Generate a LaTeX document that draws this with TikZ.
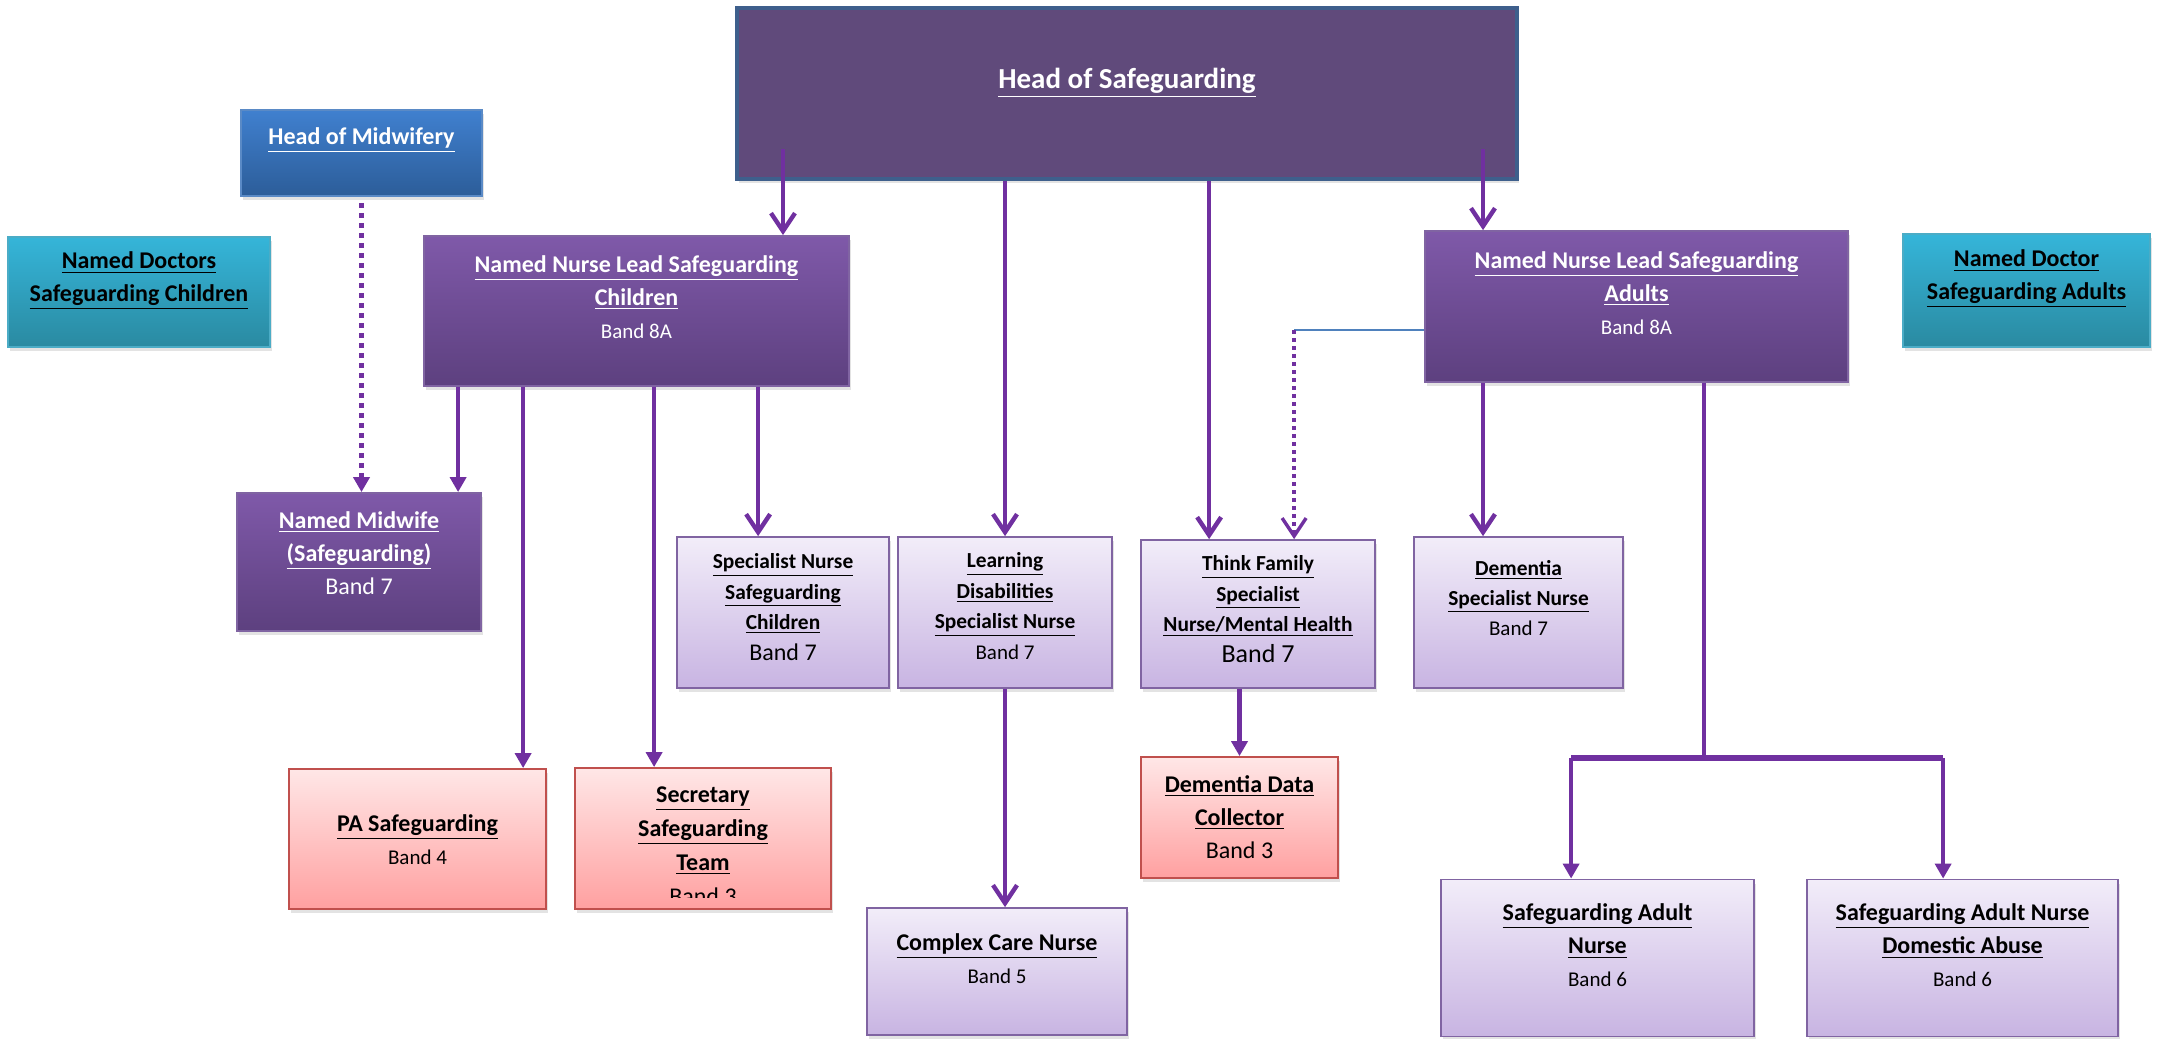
\documentclass[tikz,border=0pt]{standalone}
\usepackage{fontspec}
\setmainfont{Carlito}
\usetikzlibrary{arrows.meta,shadows}

\definecolor{hosfill}{HTML}{604A7B}
\definecolor{hosline}{HTML}{3E5F8C}
\definecolor{homtop}{HTML}{4080CF}
\definecolor{hombot}{HTML}{2C5D99}
\definecolor{homline}{HTML}{5A8AC6}
\definecolor{doctop}{HTML}{35B5D9}
\definecolor{docbot}{HTML}{2A8AA1}
\definecolor{docline}{HTML}{4BACC6}
\definecolor{nnltop}{HTML}{7F59A9}
\definecolor{nnlbot}{HTML}{5D407F}
\definecolor{nnlline}{HTML}{8064A2}
\definecolor{ltop}{HTML}{F2EDF9}
\definecolor{lbot}{HTML}{C8B4E2}
\definecolor{redtop}{HTML}{FFE7E7}
\definecolor{redbot}{HTML}{FFA0A0}
\definecolor{redline}{HTML}{C0504D}
\definecolor{arr}{HTML}{7030A0}
\definecolor{thinblue}{HTML}{4F81BD}

\newcommand{\ulb}[1]{\underline{\textbf{#1}}}
\newcommand{\band}[1]{{\fontsize{10.5}{15}\selectfont #1}}

\tikzset{
  sz/.style 2 args={minimum width=#1, minimum height=#2},
  orgbox/.style={rectangle, inner sep=0pt, line width=0.9pt,
    drop shadow={opacity=0.22, shadow xshift=1pt, shadow yshift=-2pt}},
  hosbox/.style={orgbox, draw=hosline, line width=2pt, fill=hosfill},
  hombox/.style={orgbox, draw=homline, top color=homtop, bottom color=hombot},
  docbox/.style={orgbox, draw=docline, top color=doctop, bottom color=docbot},
  nnlbox/.style={orgbox, draw=nnlline, top color=nnltop, bottom color=nnlbot},
  lilbox/.style={orgbox, draw=nnlline, top color=ltop, bottom color=lbot},
  redbox/.style={orgbox, draw=redline, top color=redtop, bottom color=redbot},
  txt/.style={align=center, inner sep=0pt, font=\fontsize{12}{16.5}\selectfont},
  wtxt/.style={txt, text=white},
  stxt/.style={txt, font=\fontsize{10.7}{15.2}\selectfont},
  link/.style={draw=arr, line width=2.2pt},
  vto/.style={link, -{Straight Barb[length=9pt, width=12pt]}},
  tri/.style={link, -{Triangle[length=7.5pt, width=8pt]}},
}

\begin{document}
\begin{tikzpicture}[x=0.5pt, y=-0.5pt]
\useasboundingbox (0,0) rectangle (2161,1038);

% top row
\node[hosbox, sz={390pt}{85.5pt}] (hos) at (1127,93.5) {};
\node[wtxt, font=\fontsize{14.5}{18}\selectfont] (hos-t) at ([yshift=-38.5pt]hos.north) {\ulb{Head of Safeguarding}};

\node[hombox, sz={120.5pt}{43pt}] (hom) at (361.5,153) {};
\node[wtxt] (hom-t) at ([yshift=-15.5pt]hom.north) {\ulb{Head of Midwifery}};

\node[docbox, sz={131pt}{55pt}] (ndsc) at (139,292) {};
\node[txt] (ndsc-t) at ([yshift=-22.5pt]ndsc.north) {\ulb{Named Doctors}\\\ulb{Safeguarding Children}};

\node[docbox, sz={123.5pt}{56.5pt}] (ndsa) at (2026.5,290.5) {};
\node[txt] (ndsa-t) at ([yshift=-23pt]ndsa.north) {\ulb{Named Doctor}\\\ulb{Safeguarding Adults}};

\node[nnlbox, sz={212.5pt}{75pt}] (nnlc) at (636.5,311) {};
\node[wtxt] (nnlc-t) at ([yshift=-31pt]nnlc.north) {\ulb{Named Nurse Lead Safeguarding}\\\ulb{Children}\\\band{Band 8A}};

\node[nnlbox, sz={211.5pt}{75.5pt}] (nnla) at (1636.5,306.5) {};
\node[wtxt] (nnla-t) at ([yshift=-31.5pt]nnla.north) {\ulb{Named Nurse Lead Safeguarding}\\\ulb{Adults}\\\band{Band 8A}};

% middle row
\node[nnlbox, sz={122pt}{69pt}] (nmw) at (359,562) {};
\node[wtxt] (nmw-t) at ([yshift=-30.5pt]nmw.north) {\ulb{Named Midwife}\\\ulb{(Safeguarding)}\\Band 7};

\node[lilbox, sz={106pt}{75.5pt}] (snsc) at (783,612.5) {};
\node[stxt] (snsc-t) at ([yshift=-35.5pt]snsc.north) {\ulb{Specialist Nurse}\\\ulb{Safeguarding}\\\ulb{Children}\\{\fontsize{12}{15}\selectfont Band 7}};

\node[lilbox, sz={107pt}{75.5pt}] (ldsn) at (1005,612.5) {};
\node[stxt] (ldsn-t) at ([yshift=-35pt]ldsn.north) {\ulb{Learning}\\\ulb{Disabilities}\\\ulb{Specialist Nurse}\\\band{Band 7}};

\node[lilbox, sz={117pt}{74pt}] (tfsn) at (1258,614) {};
\node[stxt] (tfsn-t) at ([yshift=-35pt]tfsn.north) {\ulb{Think Family}\\\ulb{Specialist}\\\ulb{Nurse/Mental Health}\\{\fontsize{13}{15}\selectfont Band 7}};

\node[lilbox, sz={104.5pt}{75.5pt}] (dsn) at (1518.5,612.5) {};
\node[stxt] (dsn-t) at ([yshift=-31pt]dsn.north) {\ulb{Dementia}\\\ulb{Specialist Nurse}\\\band{Band 7}};

% bottom row
\node[redbox, sz={128.5pt}{70pt}] (pas) at (417.5,839) {};
\node[txt] (pas-t) at ([yshift=-36pt]pas.north) {\ulb{PA Safeguarding}\\\band{Band 4}};

\node[redbox, sz={128pt}{70.5pt}] (sec) at (703,838.5) {};
\begin{scope}
  \clip ([yshift=6pt]sec.south west) rectangle (sec.north east);
  \node[txt, font=\fontsize{12}{17}\selectfont] (sec-t) at ([yshift=-39.5pt]sec.north) {\ulb{Secretary}\\\ulb{Safeguarding}\\\ulb{Team}\\Band 3};
\end{scope}

\node[lilbox, sz={130pt}{63.5pt}] (ccn) at (997,971.5) {};
\node[txt] (ccn-t) at ([yshift=-26pt]ccn.north) {\ulb{Complex Care Nurse}\\\band{Band 5}};

\node[redbox, sz={98.5pt}{60.5pt}] (ddc) at (1239.5,817.5) {};
\node[txt] (ddc-t) at ([yshift=-30.5pt]ddc.north) {\ulb{Dementia Data}\\\ulb{Collector}\\Band 3};

\node[lilbox, sz={156.5pt}{78.5pt}] (san) at (1597.5,958) {};
\node[txt] (san-t) at ([yshift=-33.5pt]san.north) {\ulb{Safeguarding Adult}\\\ulb{Nurse}\\\band{Band 6}};

\node[lilbox, sz={155.5pt}{78.5pt}] (sand) at (1962.5,958) {};
\node[txt] (sand-t) at ([yshift=-33.5pt]sand.north) {\ulb{Safeguarding Adult Nurse}\\\ulb{Domestic Abuse}\\\band{Band 6}};

% from head of safeguarding
\coordinate (hosL) at (783,149);
\coordinate (hosR) at (1483,149);
\coordinate (tfin) at ([xshift=34.5pt]tfsn.north west);
\draw[vto] (hosL) -- (hosL |- nnlc.north);
\draw[vto] (hosR) -- (hosR |- nnla.north);
\draw[vto] (ldsn.north |- hos.south) -- (ldsn.north);
\draw[vto] (tfin |- hos.south) -- (tfin);

% midwifery
\draw[tri, dash pattern=on 2.5pt off 2.5pt] ([yshift=-3pt]hom.south) -- (hom.south |- nmw.north);

% children side
\coordinate (c1) at ([xshift=17.5pt]nnlc.south west);
\coordinate (c2) at ([xshift=50pt]nnlc.south west);
\coordinate (c3) at ([xshift=115.5pt]nnlc.south west);
\coordinate (c4) at ([xshift=167.5pt]nnlc.south west);
\draw[tri] (c1) -- (c1 |- nmw.north);
\draw[tri] (c2) -- (c2 |- pas.north);
\draw[tri] (c3) -- (c3 |- sec.north);
\draw[vto] (c4) -- (c4 |- snsc.north);

% adults side
\coordinate (a1) at ([yshift=-50pt]nnla.north west);
\coordinate (a1d) at ([xshift=77pt]tfsn.north west);
\draw[thinblue, line width=0.8pt] (a1) -- (a1 -| a1d);
\draw[vto, line width=1.7pt, dash pattern=on 1.7pt off 2.3pt] (a1 -| a1d) -- (a1d);
\draw[vto] (hosR |- nnla.south) -- (hosR |- dsn.north);

\coordinate (a2) at ([xshift=140pt]nnla.south west);
\coordinate (sanin) at ([xshift=65.5pt]san.north west);
\coordinate (sandin) at ([xshift=68.5pt]sand.north west);
\coordinate (brk) at (1705,758);
\draw[link] (a2) -- (a2 |- brk);
\draw[link, line width=3pt, line cap=square] (brk -| sanin) -- (brk -| sandin);
\draw[tri] (brk -| sanin) -- (sanin);
\draw[tri] (brk -| sandin) -- (sandin);

% lower links
\draw[vto] (ldsn.south) -- (ldsn.south |- ccn.north);
\draw[tri] (ddc.north |- tfsn.south) -- (ddc.north);
\end{tikzpicture}
\end{document}
